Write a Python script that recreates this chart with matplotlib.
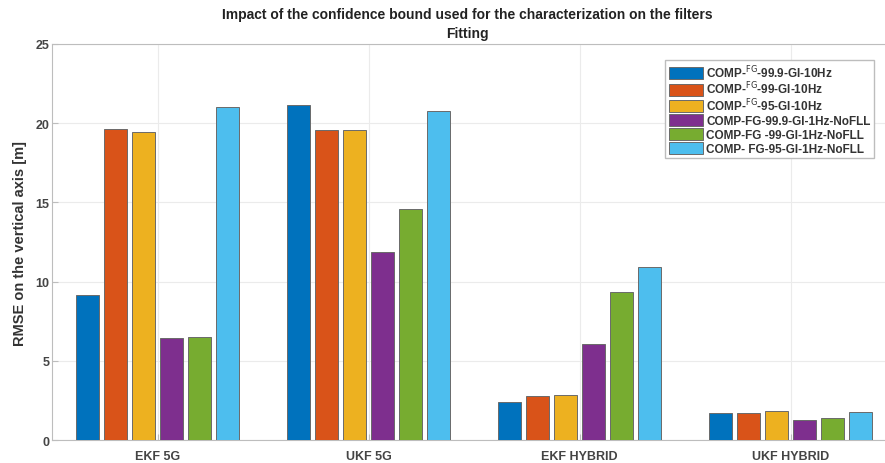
import numpy as np
import matplotlib
matplotlib.use("Agg")
from matplotlib import pyplot as plt

plt.rcParams['font.family'] = ['Liberation Sans', 'DejaVu Sans']

# groups on the x axis
groups = ["EKF 5G", "UKF 5G", "EKF HYBRID", "UKF HYBRID"]

# one list per configuration (RMSE on the vertical axis [m])
fg999_gi_10hz = [9.15, 21.15, 2.4, 1.7]
fg99_gi_10hz = [19.65, 19.6, 2.75, 1.7]
fg95_gi_10hz = [19.45, 19.6, 2.85, 1.8]
fg999_gi_1hz_nofll = [6.45, 11.9, 6.05, 1.25]
fg99_gi_1hz_nofll = [6.5, 14.6, 9.35, 1.4]
fg95_gi_1hz_nofll = [21.05, 20.8, 10.9, 1.75]

labels = [
    r"COMP-$^{\mathsf{FG}}$-99.9-GI-10Hz",
    r"COMP-$^{\mathsf{FG}}$-99-GI-10Hz",
    r"COMP-$^{\mathsf{FG}}$-95-GI-10Hz",
    "COMP-FG-99.9-GI-1Hz-NoFLL",
    "COMP-FG -99-GI-1Hz-NoFLL",
    "COMP- FG-95-GI-1Hz-NoFLL",
]
series = [fg999_gi_10hz, fg99_gi_10hz, fg95_gi_10hz,
          fg999_gi_1hz_nofll, fg99_gi_1hz_nofll, fg95_gi_1hz_nofll]
colours = ["#0072BD", "#D95319", "#EDB120", "#7E2F8E", "#77AC30", "#4DBEEE"]

fig = plt.figure(figsize=(8.85, 4.64), dpi=100)
ax = fig.add_axes([52/885, 1 - 441/464, 844/885, 396/464])

x = np.arange(1, len(groups) + 1)
pitch = 0.8 / len(series)
for i, (vals, lab, col) in enumerate(zip(series, labels, colours)):
    offs = (i - (len(series) - 1) / 2) * pitch
    ax.bar(x + offs, vals, width=pitch * 0.82, color=col, label=lab,
           edgecolor="#6a6a6a", linewidth=0.7, zorder=3)

ax.set_xlim(0.5, 4.5)
ax.set_ylim(0, 25)
ax.set_yticks([0, 5, 10, 15, 20, 25])
ax.set_xticks(x)
ax.set_xticklabels(groups)
ax.grid(True, color="#ebebeb", linewidth=0.8, zorder=0)
ax.tick_params(direction="in", length=4, colors="#bdbdbd", labelcolor="#444444",
               labelsize=9)
ax.tick_params(axis="x", pad=7)
ax.tick_params(axis="y", pad=2)
for t in ax.get_xticklabels() + ax.get_yticklabels():
    t.set_fontweight("bold")
for s in ["left", "bottom", "top", "right"]:
    ax.spines[s].set_color("#bdbdbd")
    ax.spines[s].set_linewidth(0.8)

ax.set_ylabel("RMSE on the vertical axis [m]", fontsize=10.5, color="#333333",
              fontweight="bold", labelpad=6)
fig.text(467/885, 1 - 15/464,
         "Impact of the confidence bound used for the characterization on the filters",
         ha="center", va="center", fontsize=10, fontweight="bold", color="#222222")
fig.text(467/885, 1 - 34/464, "Fitting",
         ha="center", va="center", fontsize=10, fontweight="bold", color="#222222")

leg = ax.legend(loc="upper left", fontsize=8.5, handlelength=2.9,
                handleheight=1.42, labelspacing=0.0, handletextpad=0.3,
                borderpad=0.3, borderaxespad=0, fancybox=False, framealpha=1,
                edgecolor="#bdbdbd")
leg.set_bbox_to_anchor((665/885, 1 - 61/464), transform=fig.transFigure)
# keep rows evenly spaced but draw the colour swatches a bit shorter
for p in leg.get_patches():
    h = p.get_height()
    new_h = 8.6
    p.set_y(p.get_y() + (h - new_h) / 2)
    p.set_height(new_h)
for t in leg.get_texts():
    t.set_fontweight("bold")
    t.set_color("#333333")

fig.savefig("out.png", dpi=100)
